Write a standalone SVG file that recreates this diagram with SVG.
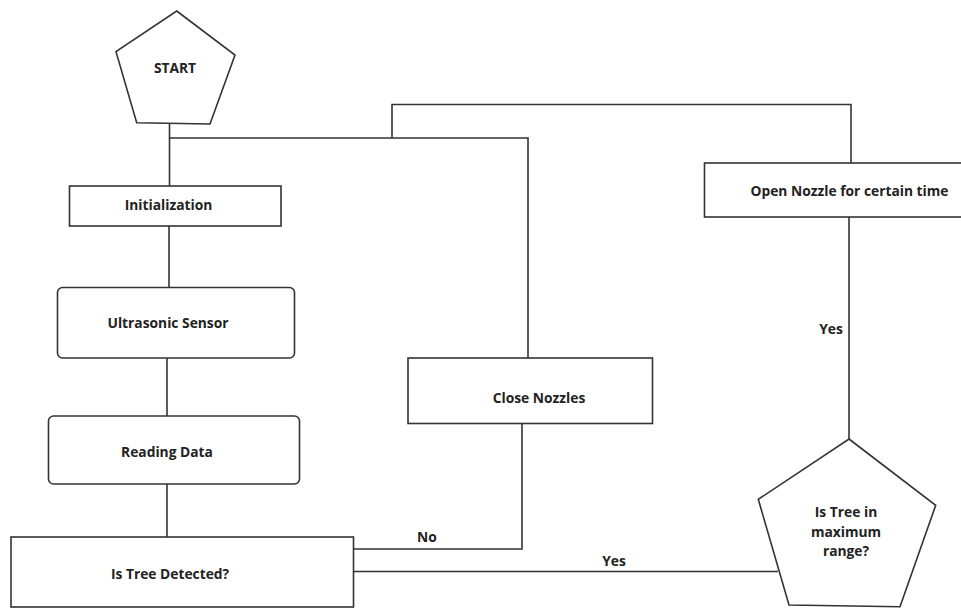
<svg xmlns="http://www.w3.org/2000/svg" width="961" height="608" viewBox="0 0 961 608">
<style>
.s{fill:#fff;stroke:#333;stroke-width:1.6}
.c{fill:none;stroke:#333;stroke-width:1.6}
text{font-family:"Open Sans","Liberation Sans",sans-serif;font-weight:bold;font-size:13.8px;fill:#222;text-anchor:middle;dominant-baseline:central}
</style>
<rect width="961" height="608" fill="#fff"/>
<g id="connectors">
<path class="c" d="M169.5 123V186"/>
<path class="c" d="M169.5 138H528V358"/>
<path class="c" d="M392 138V104.5H851V163"/>
<path class="c" d="M169 226V287"/>
<path class="c" d="M167 358V416"/>
<path class="c" d="M167 484V537"/>
<path class="c" d="M522 423V549H353"/>
<path class="c" d="M353 571.5H778"/>
<path class="c" d="M849 217V439"/>
<text x="427" y="536">No</text>
<text x="614" y="560">Yes</text>
<text x="831" y="328">Yes</text>
</g>
<g id="start">
<polygon class="s" points="176.7,11 235,55 210,124 136.7,122.7 116,51.7"/>
<text x="175" y="67">START</text>
</g>
<g id="initialization">
<rect class="s" x="69.5" y="186" width="211.5" height="40"/>
<text x="168.5" y="204.5">Initialization</text>
</g>
<g id="ultrasonic">
<rect class="s" x="57.5" y="287.5" width="237" height="70.5" rx="5"/>
<text x="168" y="322">Ultrasonic Sensor</text>
</g>
<g id="reading">
<rect class="s" x="48.5" y="416" width="251" height="68" rx="5"/>
<text x="167" y="451.5">Reading Data</text>
</g>
<g id="detected">
<rect class="s" x="11" y="537" width="342.5" height="70"/>
<text x="170" y="573.5">Is Tree Detected?</text>
</g>
<g id="close">
<rect class="s" x="408" y="358" width="244.5" height="65.5"/>
<text x="539" y="397">Close Nozzles</text>
</g>
<g id="open">
<rect class="s" x="704.5" y="163" width="260" height="54"/>
<text x="849.5" y="190">Open Nozzle for certain time</text>
</g>
<g id="range">
<polygon class="s" points="849,439 935.7,505.3 900,606.7 789,605 758.3,499.3"/>
<text x="846" y="511.7">Is Tree in</text>
<text x="846" y="531">maximum</text>
<text x="846" y="550">range?</text>
</g>
</svg>
